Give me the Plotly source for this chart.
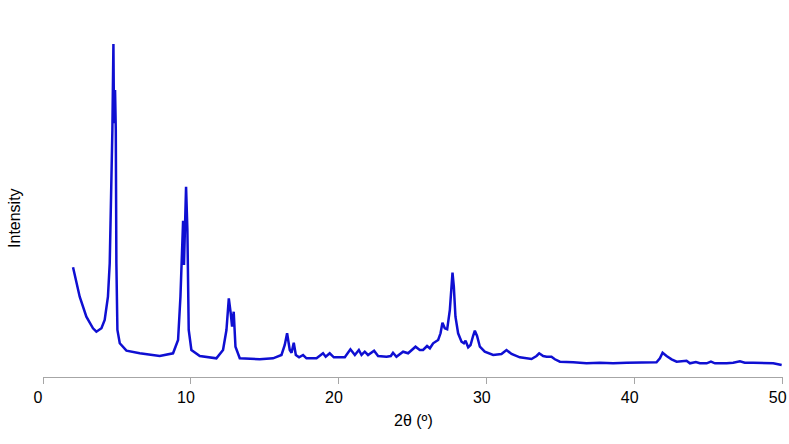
import plotly.graph_objects as go

two_theta = [
    2.03, 2.48, 2.93, 3.38, 3.61, 3.95, 4.17, 4.39, 4.51, 4.62, 4.69, 4.76, 4.80, 4.87, 4.92, 4.96,
    5.03, 5.19, 5.64, 6.54, 7.89, 8.79, 9.13, 9.29, 9.38, 9.47, 9.53, 9.67, 9.76, 9.85, 10.03,
    10.60, 11.72, 12.17, 12.40, 12.56, 12.69, 12.78, 12.89, 13.01, 13.30, 14.65,
    15.55, 16.12, 16.34, 16.50, 16.68, 16.80, 16.95, 17.09, 17.31, 17.58, 17.81, 18.49, 18.93,
    19.11, 19.38, 19.66, 20.40, 20.62, 20.78, 21.08, 21.35, 21.53, 21.75, 21.97, 22.38, 22.65,
    23.22, 23.51, 23.66, 23.89, 24.34, 24.68, 25.18, 25.47, 25.69, 25.96, 26.15, 26.37, 26.71,
    26.87, 27.00, 27.16, 27.32, 27.50, 27.61, 27.68, 27.77, 27.88, 28.06, 28.29, 28.45, 28.56,
    28.74, 28.90, 29.07, 29.19, 29.34, 29.53, 29.86, 30.43, 30.99, 31.33, 31.67, 32.23,
    33.02, 33.36, 33.54, 33.81, 34.04, 34.37, 34.60, 34.94, 35.84, 36.74, 37.64, 38.54, 39.45,
    40.35, 41.47, 41.70, 41.88, 42.15, 42.49, 42.83, 43.27, 43.50, 43.73, 44.13, 44.40, 44.86,
    45.15, 45.42, 46.21, 46.65, 47.11, 47.44, 48.01, 48.68, 49.36, 49.93,
]

intensity = [
    1097, 803, 603, 487, 453, 487, 570, 803, 1137, 1803, 2470, 3330, 2537, 2870, 2470, 1137,
    470, 337, 263, 237, 210, 237, 370, 803, 1303, 1563, 1120, 1903, 1470, 470, 270,
    210, 187, 270, 470, 787, 637, 503, 653, 303, 187, 177,
    187, 220, 320, 437, 270, 243, 343, 220, 197, 220, 187, 187, 237,
    203, 237, 197, 197, 237, 277, 220, 270, 220, 253, 220, 263, 210,
    203, 210, 243, 203, 253, 237, 303, 270, 270, 310, 287, 337, 370,
    437, 543, 487, 477, 670, 937, 1043, 903, 603, 437, 353, 337, 363,
    297, 320, 410, 463, 410, 303, 253, 220, 230, 270, 230, 197,
    180, 210, 237, 210, 203, 203, 177, 153, 147, 137, 143, 137, 143,
    143, 147, 187, 243, 210, 177, 153, 157, 163, 137, 150, 137, 137,
    153, 137, 137, 143, 157, 143, 143, 143, 137, 120,
]

x_ticks = [0, 10, 20, 30, 40, 50]
x_title = "2θ (º)"
y_title = "Intensity"

FONT = "Liberation Sans, Arial, Helvetica, sans-serif"

fig = go.Figure()
fig.add_trace(go.Scatter(
    x=two_theta, y=intensity, mode="lines",
    line=dict(color="rgb(15,15,210)", width=2.5),
    showlegend=False,
))

fig.update_layout(
    width=789, height=444,
    margin=dict(l=43, r=6, t=40, b=67),
    paper_bgcolor="white", plot_bgcolor="white",
    font=dict(family=FONT, size=16, color="black"),
    xaxis=dict(
        range=[0, 50.02], tickvals=x_ticks, ticktext=[str(v) for v in x_ticks],
        showline=True, linecolor="#a6a6a6", linewidth=1,
        ticks="outside", ticklen=6, tickcolor="#a6a6a6", tickwidth=1,
        showgrid=False, zeroline=False, automargin=False,
        ticklabeloverflow="allow", ticklabelshift=-5,
        tickfont=dict(family=FONT, size=16, color="black"),
    ),
    yaxis=dict(range=[0, 3370], visible=False),
    annotations=[
        dict(text=x_title, xref="paper", yref="paper", x=0.5, y=-0.128,
             xanchor="center", yanchor="middle", showarrow=False,
             font=dict(family=FONT, size=16, color="black")),
        dict(text=y_title, xref="paper", yref="paper", x=-0.0378, y=0.472,
             xanchor="center", yanchor="middle", showarrow=False, textangle=-90,
             font=dict(family=FONT, size=16, color="black")),
    ],
)

fig.write_html(
    "out.html",
    config={"displayModeBar": False},
    post_script="document.body.style.margin='0';document.body.style.overflow='hidden';",
)
